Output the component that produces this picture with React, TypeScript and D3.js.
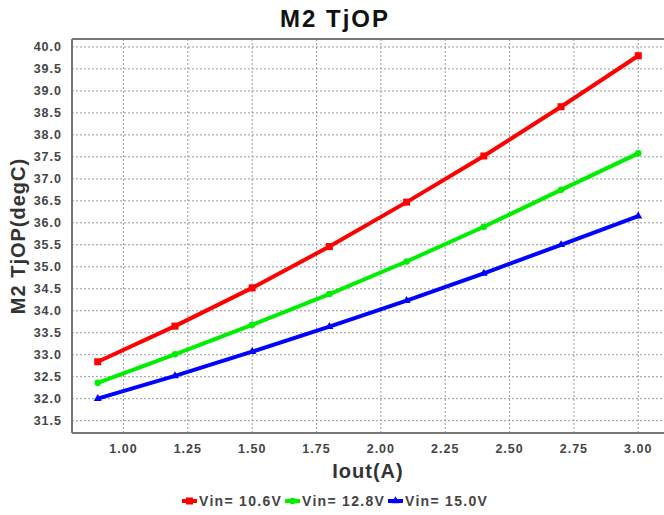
import React from 'react'
import * as d3 from 'd3'

const iout = [0.9, 1.2, 1.5, 1.8, 2.1, 2.4, 2.7, 3.0]
const vin106 = [32.84, 33.65, 34.52, 35.46, 36.47, 37.52, 38.64, 39.80]
const vin128 = [32.36, 33.01, 33.68, 34.38, 35.12, 35.91, 36.75, 37.58]
const vin150 = [32.0, 32.52, 33.07, 33.64, 34.23, 34.85, 35.5, 36.15]
const seriesNames = ['Vin= 10.6V', 'Vin= 12.8V', 'Vin= 15.0V']
const seriesColors = ['#ff0000', '#00ee00', '#0000ff']
const seriesShapes = ['square', 'circle', 'triangle']
const xTicks = [1.0, 1.25, 1.5, 1.75, 2.0, 2.25, 2.5, 2.75, 3.0]
const yTicks = d3.range(31.5, 40.01, 0.5)

const W = 664
const H = 515
const margin = { left: 72, top: 39, right: 0, bottom: 82 }
const font = '"Liberation Sans", Arial, sans-serif'

const Marker = ({ shape, x, y, color }: { shape: string, x: number, y: number, color: string }) => {
    if (shape === 'square') return <rect x={x - 3.5} y={y - 3.5} width={7} height={7} fill={color} />
    if (shape === 'circle') return <circle cx={x} cy={y} r={3.3} fill={color} />
    const sym = d3.symbol().type(d3.symbolTriangle).size(28)
    return <path d={sym()!} transform={`translate(${x},${y})`} fill={color} />
}

const App = () => {
    const x = d3.scaleLinear().domain([0.8, 3.1]).range([margin.left, W - margin.right])
    const y = d3.scaleLinear().domain([31.22, 40.18]).range([H - margin.bottom, margin.top])
    const series = [vin106, vin128, vin150]
    const line = d3.line<number>().x((_, i) => x(iout[i])).y(d => y(d))
    const legendX = [182, 285, 388]

    return (
        <svg width={W} height={H} style={{ position: 'absolute', left: 0, top: 0 }} fontFamily={font}>
            <rect width={W} height={H} fill="#fff" />
            <text x={335} y={27} textAnchor="middle" fontSize={24} fontWeight="bold" fill="#111" letterSpacing={2}>M2 TjOP</text>

            {/* grid */}
            {yTicks.map(t => (
                <line key={'gy' + t} x1={margin.left} x2={W} y1={y(t)} y2={y(t)} stroke="#999" strokeDasharray="2,2" />
            ))}
            {xTicks.map(t => (
                <line key={'gx' + t} x1={x(t)} x2={x(t)} y1={margin.top} y2={H - margin.bottom} stroke="#999" strokeDasharray="2,2" />
            ))}

            {/* frame */}
            <line x1={margin.left} x2={W} y1={margin.top} y2={margin.top} stroke="#777" strokeWidth={2} />
            <line x1={margin.left} x2={margin.left} y1={margin.top} y2={H - margin.bottom} stroke="#777" strokeWidth={2} />
            <line x1={margin.left} x2={W} y1={H - margin.bottom} y2={H - margin.bottom} stroke="#777" strokeWidth={2} />

            {/* tick labels */}
            {yTicks.map(t => (
                <text key={'ty' + t} x={62} y={y(t) + 4.5} textAnchor="end" fontSize={12.5} fontWeight="bold" fill="#444" letterSpacing={1}>{t.toFixed(1)}</text>
            ))}
            {xTicks.map(t => (
                <text key={'tx' + t} x={x(t)} y={453} textAnchor="middle" fontSize={12.5} fontWeight="bold" fill="#444" letterSpacing={1}>{t.toFixed(2)}</text>
            ))}

            <text x={368} y={478} textAnchor="middle" fontSize={20} fontWeight="bold" fill="#333" letterSpacing={1}>Iout(A)</text>
            <text transform={`translate(25,${(margin.top + H - margin.bottom) / 2}) rotate(-90)`} textAnchor="middle" fontSize={20} fontWeight="bold" fill="#333" letterSpacing={1}>M2 TjOP(degC)</text>

            {/* series */}
            {series.map((s, k) => (
                <g key={'s' + k}>
                    <path d={line(s)!} fill="none" stroke={seriesColors[k]} strokeWidth={4} />
                    {s.map((v, i) => <Marker key={i} shape={seriesShapes[k]} x={x(iout[i])} y={y(v)} color={seriesColors[k]} />)}
                </g>
            ))}

            {/* legend */}
            {seriesNames.map((n, k) => (
                <g key={'l' + k}>
                    <line x1={legendX[k]} x2={legendX[k] + 15} y1={501} y2={501} stroke={seriesColors[k]} strokeWidth={4} />
                    <Marker shape={seriesShapes[k]} x={legendX[k] + 7.5} y={501} color={seriesColors[k]} />
                    <text x={legendX[k] + 17} y={506} fontSize={14} fontWeight="bold" fill="#444" letterSpacing={1.3}>{n}</text>
                </g>
            ))}
        </svg>
    )
}

export default App
